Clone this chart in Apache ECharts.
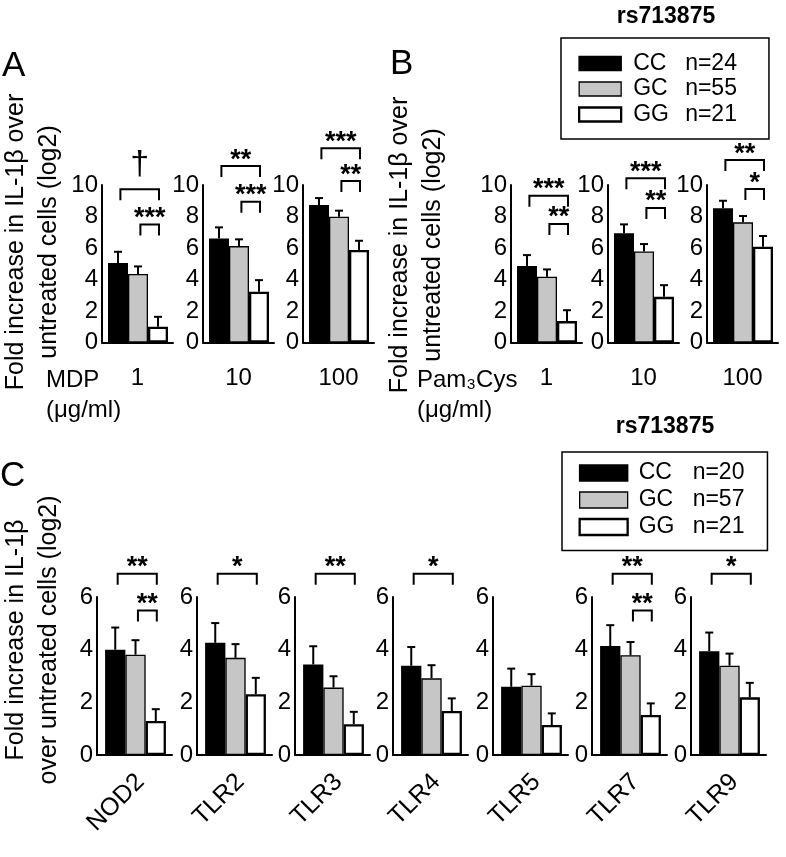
<!DOCTYPE html>
<html><head><meta charset="utf-8">
<script src="https://cdn.jsdelivr.net/npm/echarts@6/dist/echarts.min.js"></script>
<style>html,body{margin:0;padding:0;background:#fff}#c{width:786px;height:857px}</style>
</head><body><div id="c"></div>
<script>
// ---------- data ----------
const genotypes = ['CC', 'GC', 'GG'];
const nAB = [24, 55, 21];
const nC = [20, 57, 21];
const doses = ['1', '10', '100'];
// Panel A (MDP): mean per dose [CC, GC, GG] and upper error bar end
const mdpMean = [[5.05, 4.35, 1.0], [6.61, 6.12, 3.22], [8.73, 7.99, 5.87]];
const mdpErr  = [[5.76, 4.83, 1.63], [7.31, 6.55, 3.96], [9.17, 8.37, 6.46]];
// Panel B (Pam3Cys)
const pamMean = [[4.85, 4.17, 1.36], [6.93, 5.78, 2.90], [8.52, 7.63, 6.08]];
const pamErr  = [[5.55, 4.64, 2.05], [7.50, 6.25, 3.64], [9.00, 8.03, 6.76]];
// Panel C (receptors)
const receptors = ['NOD2', 'TLR2', 'TLR3', 'TLR4', 'TLR5', 'TLR7', 'TLR9'];
const recMean = [[4.00, 3.81, 1.29], [4.26, 3.69, 2.31], [3.44, 2.56, 1.17], [3.39, 2.91, 1.67], [2.59, 2.63, 1.14], [4.14, 3.79, 1.52], [3.94, 3.39, 2.19]];
const recErr  = [[4.84, 4.36, 1.74], [5.01, 4.21, 2.93], [4.13, 2.99, 1.64], [4.10, 3.41, 2.15], [3.28, 3.07, 1.58], [4.93, 4.29, 1.96], [4.65, 3.85, 2.74]];
// significance brackets: [fromGenotype, toGenotype, bracketTopValue, label]
const mdpSig = [[[0, 2, 9.73, '†'], [1, 2, 7.50, '***']], [[0, 2, 11.20, '**'], [1, 2, 8.94, '***']], [[0, 2, 12.33, '***'], [1, 2, 10.25, '**']]];
const pamSig = [[[0, 2, 9.32, '***'], [1, 2, 7.53, '**']], [[0, 2, 10.43, '***'], [1, 2, 8.54, '**']], [[0, 2, 11.58, '**'], [1, 2, 9.74, '*']]];
const recSig = [[[0, 2, 6.88, '**'], [1, 2, 5.49, '**']], [[0, 2, 6.88, '*']], [[0, 2, 6.88, '**']], [[0, 2, 6.88, '*']], [], [[0, 2, 6.88, '**'], [1, 2, 5.49, '**']], [[0, 2, 6.88, '*']]];
const abTicks = [0, 10, 2];
const cTicks = [0, 6, 2];

// ---------- style / layout ----------
const FONT = '"Liberation Sans", Arial, sans-serif';
const fills = ['#000000', '#c6c6c6', '#ffffff'];
const borderW = [1.5, 1.3, 2.3];
const grids = [], xAxes = [], yAxes = [], series = [];

function addPanel(left, top, width, height, xmin, xmax, ticks, means, errs, sig, xName) {
  const gi = grids.length;
  grids.push({ left: left, top: top, width: width, height: height });
  const unitPx = width / (xmax - xmin);
  xAxes.push({
    gridIndex: gi, type: 'value', min: xmin, max: xmax,
    axisLine: { show: true, onZero: false, lineStyle: { color: '#000', width: 2 } },
    axisTick: { show: false }, axisLabel: { show: false }, splitLine: { show: false },
    name: xName || '', nameLocation: 'middle', nameGap: 24,
    nameTextStyle: { color: '#000', fontSize: 24, fontFamily: FONT }
  });
  yAxes.push({
    gridIndex: gi, type: 'value', min: ticks[0], max: ticks[1], interval: ticks[2],
    axisLine: { show: true, lineStyle: { color: '#000', width: 2 } },
    axisTick: { show: false }, splitLine: { show: false },
    axisLabel: { color: '#000', fontSize: 24, fontFamily: FONT, margin: 4 }
  });
  for (let g = 0; g < 3; g++) {
    series.push({
      type: 'bar', name: genotypes[g], xAxisIndex: gi, yAxisIndex: gi,
      data: [[g + 1, means[g]]], barWidth: unitPx, barGap: '-100%',
      itemStyle: { color: fills[g], borderColor: '#000', borderWidth: borderW[g] },
      silent: true, z: 2
    });
  }
  series.push({
    type: 'custom', xAxisIndex: gi, yAxisIndex: gi, silent: true, z: 3,
    encode: { x: 0, y: 1 },
    data: means.map((m, g) => [g + 1, m, errs[g]]),
    renderItem: function (params, api) {
      const p0 = api.coord([api.value(0), api.value(1)]);
      const p1 = api.coord([api.value(0), api.value(2)]);
      const cap = 4;
      return { type: 'group', children: [
        { type: 'line', shape: { x1: p0[0], y1: p0[1], x2: p1[0], y2: p1[1] }, style: { stroke: '#000', lineWidth: 2 } },
        { type: 'line', shape: { x1: p1[0] - cap, y1: p1[1], x2: p1[0] + cap, y2: p1[1] }, style: { stroke: '#000', lineWidth: 2 } }
      ] };
    }
  });
  if (sig.length) {
    series.push({
      type: 'custom', xAxisIndex: gi, yAxisIndex: gi, silent: true, z: 4, clip: false,
      encode: { x: 0, y: 2 },
      data: sig.map(s => [s[0] + 1.12, s[1] + 1.05, s[2]]),
      renderItem: function (params, api) {
        const lab = sig[params.dataIndex][3];
        const a = api.coord([api.value(0), api.value(2)]);
        const b = api.coord([api.value(1), api.value(2)]);
        const leg = 11;
        const dagger = lab === '†';
        const dy = dagger ? 25 : 6;
        return { type: 'group', children: [
          { type: 'polyline', shape: { points: [[a[0], a[1] + leg], [a[0], a[1]], [b[0], b[1]], [b[0], b[1] + leg]] },
            style: { stroke: '#000', lineWidth: 2, fill: null } },
          { type: 'text', x: (a[0] + b[0]) / 2, y: a[1] - dy,
            style: { text: lab, fill: '#000', font: (dagger ? '34px ' : 'bold 27px ') + FONT, align: 'center', verticalAlign: 'middle' } }
        ] };
      }
    });
  }
}

const aLefts = [102, 203, 303];
const bLefts = [511, 608, 707];
for (let i = 0; i < 3; i++) addPanel(aLefts[i], 185, 71, 157.5, 0.2, 3.75, abTicks, mdpMean[i], mdpErr[i], mdpSig[i], doses[i]);
for (let i = 0; i < 3; i++) addPanel(bLefts[i], 185, 71, 157.5, 0.2, 3.75, abTicks, pamMean[i], pamErr[i], pamSig[i], doses[i]);
const cLefts = [97, 197, 295, 393, 493, 592, 691];
const cW = 75;
for (let i = 0; i < 7; i++) addPanel(cLefts[i], 597, cW, 158, 0.1, 3.8, cTicks, recMean[i], recErr[i], recSig[i], '');

// ---------- annotations ----------
const txt = (text, x, y, opts) => Object.assign({ type: 'text', x: x, y: y, silent: true,
  style: Object.assign({ text: text, fill: '#000', font: '23px ' + FONT, align: 'left', verticalAlign: 'middle' }, opts || {}) });
const graphics = [
  txt('A', 2, 66, { font: '35px ' + FONT }),
  txt('B', 390, 64, { font: '35px ' + FONT }),
  txt('C', 0, 476, { font: '35px ' + FONT }),
  Object.assign(txt('Fold increase in IL-1β over\nuntreated cells (log2)', 33, 242, { font: '25px ' + FONT, align: 'center', lineHeight: 33 }), { rotation: Math.PI / 2 }),
  Object.assign(txt('Fold increase in IL-1β over\nuntreated cells (log2)', 417, 245, { font: '25px ' + FONT, align: 'center', lineHeight: 33 }), { rotation: Math.PI / 2 }),
  Object.assign(txt('Fold increase in IL-1β\nover untreated cells (log2)', 33, 640, { font: '25px ' + FONT, align: 'center', lineHeight: 33 }), { rotation: Math.PI / 2 }),
  txt('MDP', 46, 380, { font: '24px ' + FONT }),
  txt('(μg/ml)', 46, 410, { font: '24px ' + FONT }),
  txt('Pam₃Cys', 417, 380, { font: '24px ' + FONT }),
  txt('(μg/ml)', 417, 410, { font: '24px ' + FONT }),
  txt('rs713875', 666, 17, { font: 'bold 23px ' + FONT, align: 'center' }),
  txt('rs713875', 665, 427, { font: 'bold 23px ' + FONT, align: 'center' })
];
receptors.forEach((r, i) => {
  graphics.push(Object.assign(txt(r, cLefts[i] + cW / 2 + 6, 778, { font: '25px ' + FONT, align: 'right' }), { rotation: Math.PI / 4 }));
});

function legendData() {
  return genotypes.map((g, i) => ({ name: g, icon: 'rect',
    itemStyle: { color: fills[i], borderColor: '#000', borderWidth: borderW[i] } }));
}
function makeLegend(left, top, n, iw, ih, gap, pad, gw, padL, lh) {
  return {
    left: left, top: top, orient: 'vertical', selectedMode: false,
    itemWidth: iw, itemHeight: ih, itemGap: gap, padding: pad,
    borderColor: '#000', borderWidth: 1.5,
    data: legendData(),
    formatter: name => '{g|' + name + '}{n|n=' + n[genotypes.indexOf(name)] + '}',
    textStyle: { fontSize: 23, fontFamily: FONT, color: '#000', lineHeight: lh,
      rich: { g: { width: gw, padding: [0, 0, 0, padL], fontSize: 23, fontFamily: FONT, color: '#000', lineHeight: lh },
              n: { fontSize: 23, fontFamily: FONT, color: '#000', lineHeight: lh } } }
  };
}

const chart = echarts.init(document.getElementById('c'), null, { renderer: 'canvas' });
chart.setOption({
  animation: false,
  textStyle: { fontFamily: FONT },
  grid: grids, xAxis: xAxes, yAxis: yAxes, series: series,
  legend: [
    makeLegend(561, 38, nAB, 42, 14, 2.5, [14, 32, 13, 17], 52, 7, 22),
    makeLegend(562, 452, nC, 48, 16, 4, [9.5, 23, 12, 16.5], 54, 6, 23)
  ],
  graphic: graphics
});
</script></body></html>
